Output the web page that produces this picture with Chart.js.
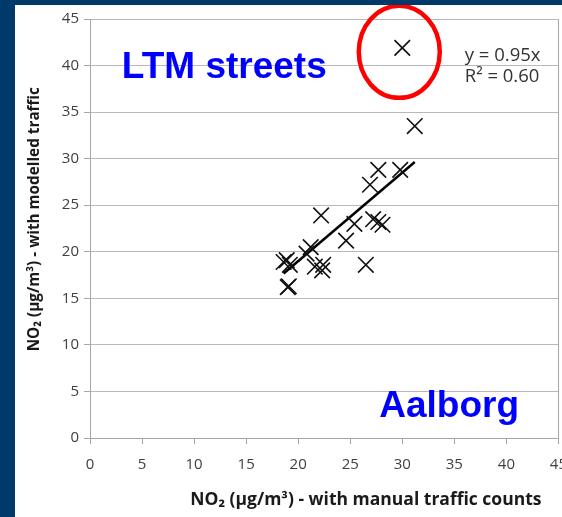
<!DOCTYPE html>
<html>
<head>
<meta charset="utf-8">
<script src="https://cdn.jsdelivr.net/npm/chart.js@4.4.1/dist/chart.umd.min.js"></script>
<style>
  html, body { margin: 0; padding: 0; }
  body { width: 562px; height: 517px; overflow: hidden; background: #003a6b; position: relative; }
  #box { position: absolute; left: 15px; top: 5px; width: 564px; height: 512px; background: #fff; }
</style>
</head>
<body>
<div id="box"><canvas id="no2Chart" width="564" height="512"></canvas></div>
<script>
// NO2 at street sites: manual counts (x) vs modelled traffic (y)
const manualNO2 = [18.6, 18.9, 19.2, 19.1, 19.0, 20.8, 21.2, 21.6, 22.3, 22.4, 22.2, 24.6, 25.4, 26.5, 26.9, 27.2, 27.7, 28.1, 27.7, 29.8, 31.2];
const modelledNO2 = [18.9, 19.1, 18.6, 16.3, 16.2, 19.8, 20.5, 18.4, 18.0, 18.6, 23.9, 21.2, 23.0, 18.6, 27.2, 23.5, 23.2, 22.9, 28.8, 28.8, 33.5];

// the LTM street point circled in red
const outlierX = [30.0];
const outlierY = [41.9];

// trend line through origin
const slope = 0.95;
const rSquared = 0.60;

const axisTicks = [0, 5, 10, 15, 20, 25, 30, 35, 40, 45];

const xTitle = 'NO₂ (µg/m³) - with manual traffic counts';
const yTitle = 'NO₂ (µg/m³) - with modelled traffic';

const scatterPts = manualNO2.map((x, i) => ({ x: x, y: modelledNO2[i] }));
outlierX.forEach((x, i) => scatterPts.push({ x: x, y: outlierY[i] }));

const xMin = Math.min(...manualNO2);
const xMax = Math.max(...manualNO2);
const trendPts = [{ x: xMin, y: slope * xMin }, { x: xMax, y: slope * xMax }];

const tickFont = { family: 'Open Sans', size: 15 };

// red ring, labels, equation and axis titles
const notes = {
  id: 'notes',
  afterDatasetsDraw(chart) {
    const { ctx, scales } = chart;
    const sx = scales.x, sy = scales.y;
    ctx.save();

    ctx.fillStyle = '#0000ff';
    ctx.font = 'bold 37px "Liberation Sans", Arial, sans-serif';
    ctx.textAlign = 'center';
    ctx.textBaseline = 'alphabetic';
    ctx.fillText('LTM streets', sx.getPixelForValue(12.9), sy.getPixelForValue(38.7));
    ctx.fillText('Aalborg', sx.getPixelForValue(34.5), sy.getPixelForValue(2.3));

    ctx.fillStyle = '#333';
    ctx.font = '18.5px "Open Sans", sans-serif';
    ctx.textAlign = 'left';
    ctx.textBaseline = 'middle';
    ctx.fillText('y = ' + slope.toFixed(2) + 'x', sx.getPixelForValue(36), sy.getPixelForValue(41.1));
    ctx.fillText('R² = ' + rSquared.toFixed(2), sx.getPixelForValue(36), sy.getPixelForValue(38.8));

    const cx = sx.getPixelForValue(outlierX[0]) - 3;
    const cy = sy.getPixelForValue(outlierY[0]) + 4;
    ctx.strokeStyle = '#ff0000';
    ctx.lineWidth = 4.5;
    ctx.beginPath();
    ctx.ellipse(cx, cy, 40.5, 46, 0, 0, Math.PI * 2);
    ctx.stroke();

    // axis titles
    ctx.fillStyle = '#1a1a1a';
    ctx.textAlign = 'center';
    ctx.textBaseline = 'middle';
    ctx.font = 'bold 17.5px "Open Sans", sans-serif';
    ctx.fillText(xTitle, sx.getPixelForValue(26.5), sx.bottom - 17);

    ctx.font = 'bold 15.3px "Open Sans", sans-serif';
    ctx.translate(20, sy.getPixelForValue(23.5));
    ctx.rotate(-Math.PI / 2);
    ctx.fillText(yTitle, 0, 0);
    ctx.restore();
  }
};

new Chart(document.getElementById('no2Chart').getContext('2d'), {
  type: 'scatter',
  data: {
    datasets: [{
      label: 'NO2',
      data: scatterPts,
      pointStyle: 'crossRot',
      pointRadius: 11,
      pointBorderWidth: 1.6,
      borderColor: '#111',
      backgroundColor: '#111'
    }, {
      type: 'line',
      label: 'Trend',
      data: trendPts,
      borderColor: '#000',
      borderWidth: 2.5,
      pointRadius: 0,
      fill: false
    }]
  },
  options: {
    responsive: false,
    animation: false,
    layout: { padding: { left: 0, right: 17, top: 11, bottom: 0 } },
    plugins: {
      legend: { display: false },
      tooltip: { enabled: false }
    },
    scales: {
      x: {
        type: 'linear',
        min: 0,
        max: 45,
        afterBuildTicks: (scale) => { scale.ticks = axisTicks.map(v => ({ value: v })); },
        afterFit: (scale) => { scale.height = 79; },
        ticks: { font: tickFont, color: '#404040', padding: 12, maxRotation: 0 },
        grid: {
          color: (c) => (c.tick && c.tick.value === 45) ? '#a6a6a6' : 'rgba(0,0,0,0)',
          tickColor: '#a6a6a6',
          tickLength: 6
        },
        border: { display: true, color: '#a6a6a6' },
        title: { display: false }
      },
      y: {
        min: 0,
        max: 45,
        afterBuildTicks: (scale) => { scale.ticks = axisTicks.map(v => ({ value: v })); },
        afterFit: (scale) => { scale.width = 75; },
        ticks: { font: tickFont, color: '#404040', padding: 5 },
        grid: { color: '#b8b8b8', tickColor: '#a6a6a6', tickLength: 6 },
        border: { display: true, color: '#a6a6a6' },
        title: { display: false }
      }
    }
  },
  plugins: [notes]
});
</script>
</body>
</html>
